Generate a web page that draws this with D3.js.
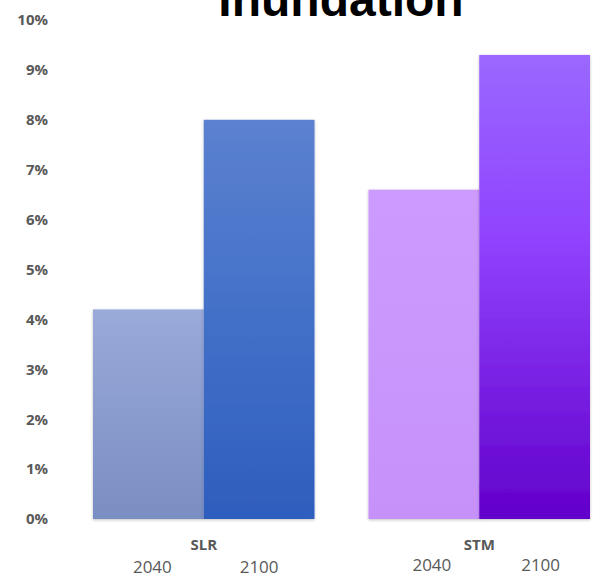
<!DOCTYPE html>
<html>
<head>
<meta charset="utf-8">
<script src="https://cdn.jsdelivr.net/npm/d3@7"></script>
<style>
  html, body { margin: 0; padding: 0; background: #fff; }
  svg { display: block; }
</style>
</head>
<body>
<svg id="chart" width="615" height="577"></svg>
<script>
// Share of area affected by inundation, by scenario and horizon year
const categories = ["SLR", "STM"];
const years = ["2040", "2100"];
const slrValues = [4.2, 8.0];
const stmValues = [6.6, 9.3];
const yTicks = [0, 1, 2, 3, 4, 5, 6, 7, 8, 9, 10];
const title = "Inundation";

const seriesByCategory = { SLR: slrValues, STM: stmValues };

// Vertical gradient stops for each bar (offset, colour), top -> bottom
const fills = {
  "SLR-2040": [[0, "#9aaad9"], [1, "#7a8ec3"]],
  "SLR-2100": [[0, "#5c81d0"], [0.5, "#4270c8"], [1, "#2e5ebe"]],
  "STM-2040": [[0, "#cd9bff"], [1, "#c692fa"]],
  "STM-2100": [[0, "#9a68ff"], [0.4, "#9042fd"], [1, "#6200cb"]]
};

const svg = d3.select("#chart");

const x0 = d3.scaleBand().domain(categories).range([66, 617]).paddingInner(0.196).paddingOuter(0.098);
const x1 = d3.scaleBand().domain(years).range([0, x0.bandwidth()]).padding(0);
const y = d3.scaleLinear().domain([0, 10]).range([519, 20]);

const defs = svg.append("defs");
Object.entries(fills).forEach(([key, stops]) => {
  const g = defs.append("linearGradient")
    .attr("id", "grad-" + key)
    .attr("x1", 0).attr("y1", 0).attr("x2", 0).attr("y2", 1);
  stops.forEach(([o, c]) => g.append("stop").attr("offset", o).attr("stop-color", c));
});
const shadow = defs.append("filter").attr("id", "barShadow")
  .attr("x", "-10%").attr("y", "-10%").attr("width", "120%").attr("height", "120%");
shadow.append("feDropShadow")
  .attr("dx", 0).attr("dy", 1).attr("stdDeviation", 1.5)
  .attr("flood-color", "#000").attr("flood-opacity", 0.25);

// Title (partly above the top edge)
svg.append("text")
  .attr("x", 341).attr("y", 16)
  .attr("text-anchor", "middle")
  .style("font-family", "'Liberation Sans', Arial, sans-serif")
  .style("font-weight", "bold")
  .style("font-size", "48px")
  .attr("fill", "#000")
  .text(title);

// Y axis labels
const yAxis = d3.axisLeft(y).tickValues(yTicks).tickFormat(d => d + "%").tickSize(0).tickPadding(0);
const yg = svg.append("g").attr("transform", "translate(48,0)").call(yAxis);
yg.select(".domain").remove();
yg.selectAll("text")
  .style("font-family", "'Open Sans', sans-serif")
  .style("font-weight", "bold")
  .style("font-size", "15px")
  .attr("fill", "#595959");

// Bars
const groups = svg.append("g").selectAll("g")
  .data(categories)
  .join("g")
  .attr("transform", d => `translate(${x0(d)},0)`);

groups.selectAll("rect")
  .data(c => years.map((yr, i) => ({ cat: c, year: yr, value: seriesByCategory[c][i] })))
  .join("rect")
  .attr("x", d => x1(d.year))
  .attr("width", x1.bandwidth())
  .attr("y", d => y(d.value))
  .attr("height", d => y(0) - y(d.value))
  .attr("fill", d => `url(#grad-${d.cat}-${d.year})`)
  .attr("filter", "url(#barShadow)");

// Category labels
svg.append("g").selectAll("text")
  .data(categories)
  .join("text")
  .attr("x", d => x0(d) + x0.bandwidth() / 2)
  .attr("y", 550)
  .attr("text-anchor", "middle")
  .style("font-family", "'Open Sans', sans-serif")
  .style("font-weight", "bold")
  .style("font-size", "15px")
  .attr("fill", "#595959")
  .text(d => d);

// Year labels beneath each category
const yearBaseline = { SLR: 573, STM: 571 };
const yearShift = { "SLR-2040": 4, "SLR-2100": 0, "STM-2040": 8, "STM-2100": 6 };
categories.forEach(c => {
  svg.append("g").selectAll("text")
    .data(years)
    .join("text")
    .attr("x", yr => x0(c) + x1(yr) + x1.bandwidth() / 2 + yearShift[c + "-" + yr])
    .attr("y", yearBaseline[c])
    .attr("text-anchor", "middle")
    .style("font-family", "'Open Sans', sans-serif")
    .style("font-size", "17px")
    .attr("fill", "#595959")
    .text(yr => yr);
});
</script>
</body>
</html>
